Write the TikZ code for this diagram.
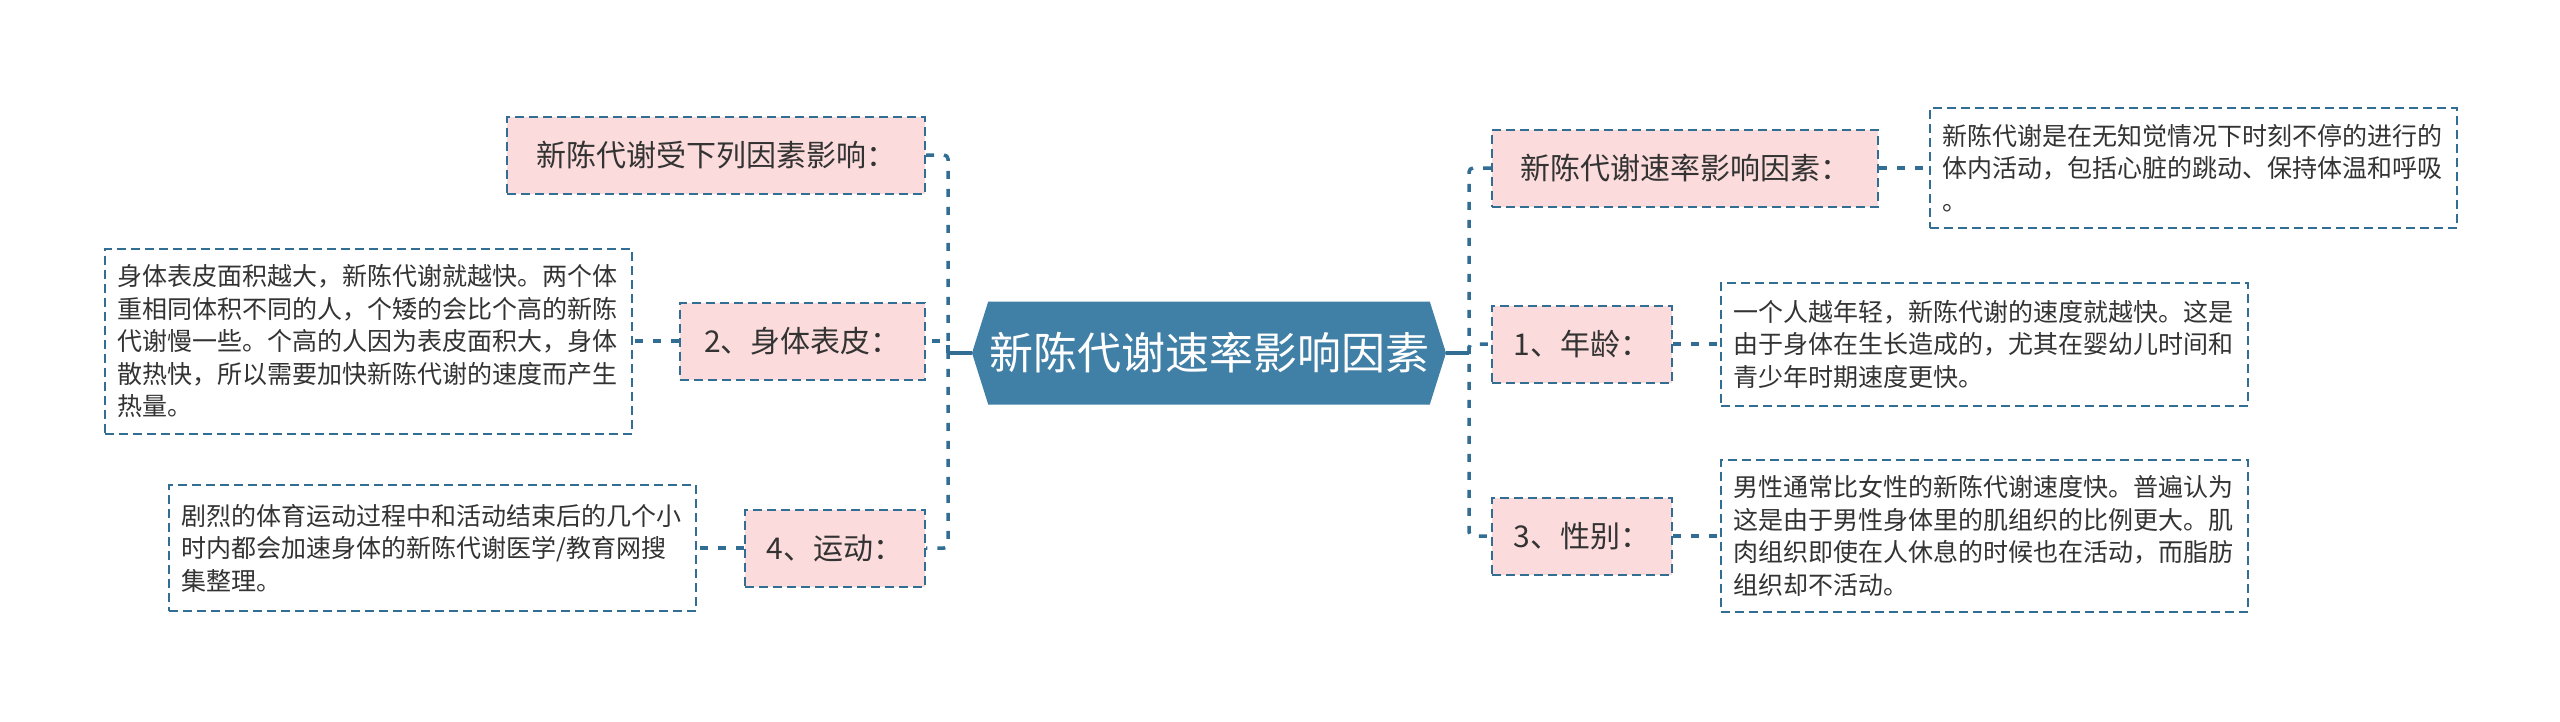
\documentclass[tikz,border=0pt]{standalone}
\usepackage{fontspec}
\setmainfont{Noto Sans CJK SC}
\usetikzlibrary{positioning,shapes.symbols}

\definecolor{hexblue}{RGB}{64,127,166}
\definecolor{linkblue}{RGB}{50,110,148}
\definecolor{factorpink}{RGB}{251,219,219}
\definecolor{textgray}{RGB}{51,51,51}

\begin{document}
\begin{tikzpicture}[x=1pt,y=-1pt,
    root/.style={signal,signal to=west and east,signal pointer angle=145,
      fill=hexblue,text=white,font=\fontsize{44}{53}\selectfont,
      minimum width=474pt,minimum height=103pt,inner sep=0pt},
    factor/.style={draw=linkblue,fill=factorpink,line width=2pt,
      dash pattern=on 9pt off 5pt,text=textgray,
      font=\fontsize{30}{36}\selectfont,minimum height=77pt,inner sep=0pt},
    detail/.style={draw=linkblue,fill=white,line width=2pt,
      dash pattern=on 9pt off 5pt,text=textgray,
      font=\fontsize{25}{32.5}\selectfont,text width=502pt,align=left,
      inner xsep=12.5pt,inner ysep=6pt},
    trunk/.style={draw=linkblue,line width=3.5pt},
    branch/.style={draw=linkblue,line width=3.5pt,dash pattern=on 8pt off 10pt,
      rounded corners=4pt}]

    \useasboundingbox (0,0) rectangle (2560,721);
    \fill[white] (0,0) rectangle (2560,721);

    % centre
    \node[root] (root) at (1209,353) {新陈代谢速率影响因素};

    % left side
    \node[factor,anchor=east,minimum width=418pt] (influence) at (926,155) {新陈代谢受下列因素影响：};
    \node[factor,anchor=east,minimum width=245pt] (skin) at (926,341) {2、身体表皮：};
    \node[factor,anchor=east,minimum width=180pt] (sport) at (926,548) {4、运动：};

    \node[detail,left=46pt of skin,minimum height=185pt] (skintext)
      {身体表皮面积越大，新陈代谢就越快。两个体\\
       重相同体积不同的人，个矮的会比个高的新陈\\
       代谢慢一些。个高的人因为表皮面积大，身体\\
       散热快，所以需要加快新陈代谢的速度而产生\\
       热量。};
    \node[detail,left=47pt of sport,minimum height=126pt] (sporttext)
      {剧烈的体育运动过程中和活动结束后的几个小\\
       时内都会加速身体的新陈代谢医学/教育网搜\\
       集整理。};

    % right side
    \node[factor,anchor=west,minimum width=386pt] (rate) at (1491,168) {新陈代谢速率影响因素：};
    \node[factor,anchor=west,minimum width=180pt] (age) at (1491,344) {1、年龄：};
    \node[factor,anchor=west,minimum width=180pt] (gender) at (1491,536) {3、性别：};

    \node[detail,right=50pt of rate,minimum height=120pt] (ratetext)
      {新陈代谢是在无知觉情况下时刻不停的进行的\\
       体内活动，包括心脏的跳动、保持体温和呼吸\\
       。};
    \node[detail,right=47pt of age,minimum height=123pt] (agetext)
      {一个人越年轻，新陈代谢的速度就越快。这是\\
       由于身体在生长造成的，尤其在婴幼儿时间和\\
       青少年时期速度更快。};
    \node[detail,right=47pt of gender,minimum height=152pt] (gendertext)
      {男性通常比女性的新陈代谢速度快。普遍认为\\
       这是由于男性身体里的肌组织的比例更大。肌\\
       肉组织即使在人休息的时候也在活动，而脂肪\\
       组织却不活动。};

    % connectors
    \draw[trunk] (root.west) -- (948,353) coordinate (ljoin);
    \draw[trunk] (root.east) -- (1469,353) coordinate (rjoin);
    \draw[branch] (influence.east) -| (ljoin) |- (sport.east);
    \draw[branch] (ljoin) |- (skin.east);
    \draw[branch] (rate.west) -| (rjoin) |- (gender.west);
    \draw[branch] (rjoin) |- (age.west);
    \draw[branch] (skin.west) -- (skintext.east);
    \draw[branch] (sport.west) -- (sporttext.east);
    \draw[branch] (rate.east) -- (ratetext.west);
    \draw[branch] (age.east) -- (agetext.west);
    \draw[branch] (gender.east) -- (gendertext.west);
\end{tikzpicture}
\end{document}
